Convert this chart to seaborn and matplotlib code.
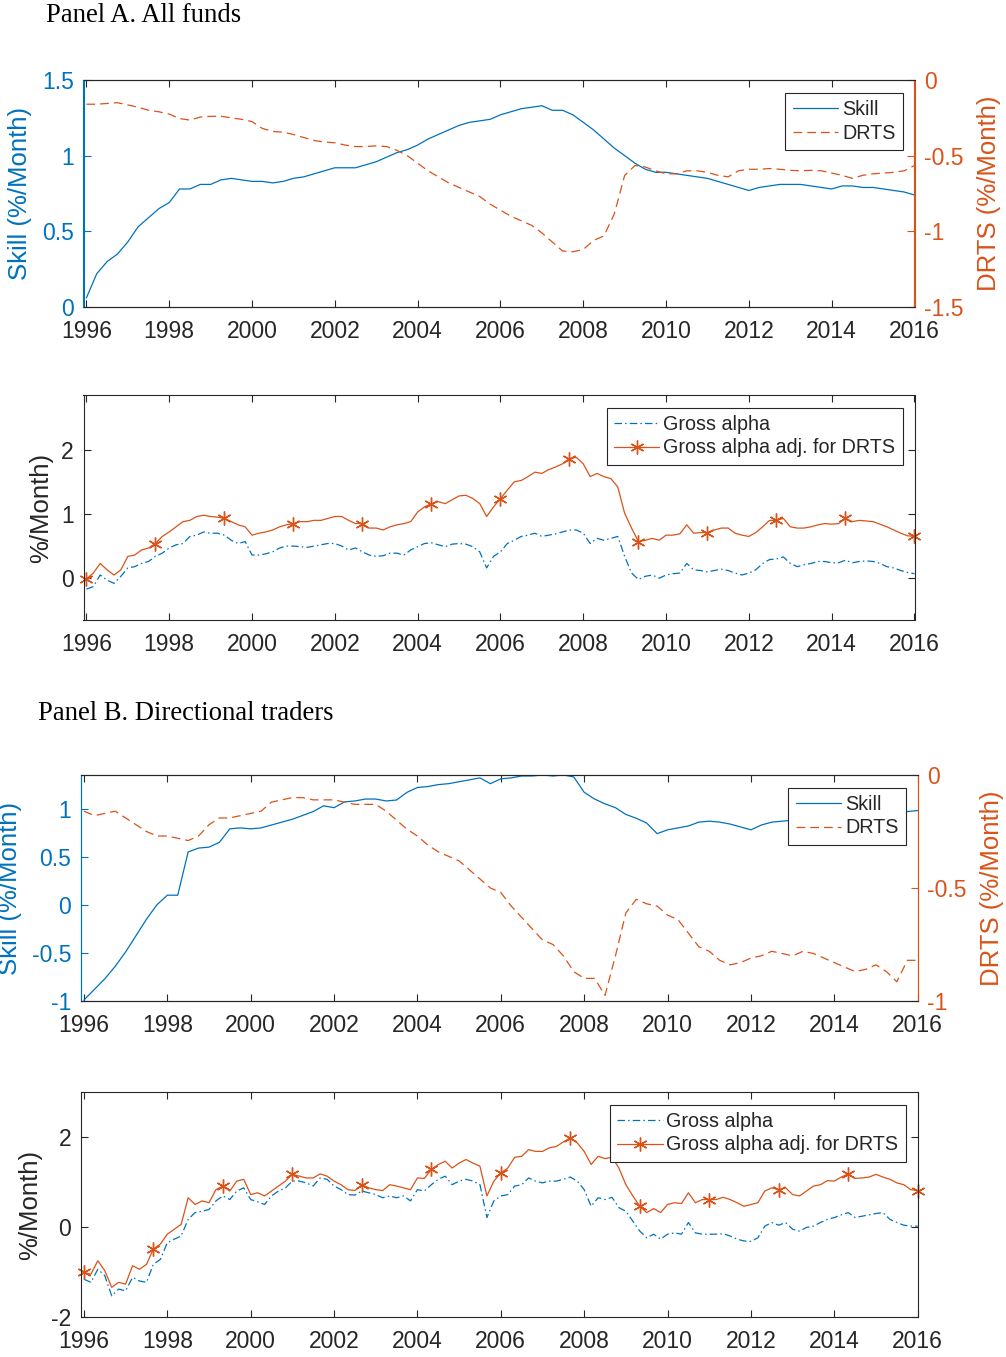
import numpy as np
import matplotlib
matplotlib.use("Agg")
import matplotlib.pyplot as plt
import seaborn as sns

# ---------------- data ----------------
years_q = np.linspace(1996, 2016, 81)    # quarterly points
years_b = np.linspace(1996, 2016, 121)   # bimonthly points

a_skill = [0.06, 0.22, 0.30, 0.35, 0.43, 0.53, 0.59, 0.65, 0.69, 0.78, 0.78, 0.81,
           0.81, 0.84, 0.85, 0.84, 0.83, 0.83, 0.82, 0.83, 0.85, 0.86, 0.88, 0.90,
           0.92, 0.92, 0.92, 0.94, 0.96, 0.99, 1.02, 1.04, 1.07, 1.11, 1.14, 1.17,
           1.20, 1.22, 1.23, 1.24, 1.27, 1.29, 1.31, 1.32, 1.33, 1.30, 1.30, 1.27,
           1.22, 1.17, 1.11, 1.05, 1.00, 0.95, 0.91, 0.89, 0.89, 0.88, 0.87, 0.86,
           0.85, 0.83, 0.81, 0.79, 0.77, 0.79, 0.80, 0.81, 0.81, 0.81, 0.80, 0.79,
           0.78, 0.80, 0.80, 0.79, 0.79, 0.78, 0.77, 0.76, 0.74]
a_drts = [-0.16, -0.16, -0.155, -0.15, -0.165, -0.18, -0.20, -0.21, -0.225, -0.255, -0.265, -0.245,
          -0.24, -0.24, -0.25, -0.26, -0.275, -0.32, -0.34, -0.345, -0.36, -0.38, -0.40, -0.41,
          -0.415, -0.43, -0.44, -0.44, -0.435, -0.44, -0.465, -0.50, -0.55, -0.60, -0.64, -0.68,
          -0.71, -0.74, -0.77, -0.82, -0.86, -0.90, -0.93, -0.96, -1.01, -1.07, -1.13, -1.135,
          -1.12, -1.06, -1.03, -0.885, -0.63, -0.565, -0.575, -0.60, -0.62, -0.62, -0.60, -0.60,
          -0.61, -0.63, -0.64, -0.60, -0.59, -0.59, -0.585, -0.59, -0.597, -0.60, -0.597, -0.60,
          -0.615, -0.63, -0.65, -0.63, -0.62, -0.615, -0.61, -0.60, -0.565]

a_gross = [-0.17, -0.13, 0.05, -0.03, -0.08, 0.03, 0.16, 0.18, 0.23, 0.26, 0.34, 0.39,
           0.47, 0.52, 0.54, 0.65, 0.67, 0.72, 0.70, 0.70, 0.67, 0.59, 0.54, 0.57,
           0.36, 0.36, 0.38, 0.41, 0.47, 0.50, 0.50, 0.49, 0.48, 0.50, 0.52, 0.54,
           0.54, 0.50, 0.44, 0.47, 0.41, 0.36, 0.34, 0.35, 0.39, 0.39, 0.36, 0.44,
           0.49, 0.54, 0.55, 0.52, 0.49, 0.53, 0.54, 0.53, 0.49, 0.41, 0.16, 0.34,
           0.41, 0.54, 0.59, 0.65, 0.67, 0.70, 0.65, 0.67, 0.69, 0.72, 0.75, 0.75,
           0.70, 0.54, 0.62, 0.59, 0.62, 0.65, 0.34, 0.08, -0.02, 0.03, 0.05, 0.00,
           0.05, 0.07, 0.08, 0.23, 0.13, 0.12, 0.10, 0.12, 0.14, 0.12, 0.08, 0.05,
           0.08, 0.13, 0.23, 0.29, 0.30, 0.33, 0.23, 0.18, 0.21, 0.23, 0.26, 0.26,
           0.24, 0.24, 0.28, 0.24, 0.26, 0.27, 0.26, 0.23, 0.18, 0.16, 0.12, 0.09, 0.07]
a_adj = [-0.01, 0.08, 0.23, 0.13, 0.05, 0.13, 0.34, 0.36, 0.44, 0.47, 0.54, 0.65,
         0.72, 0.80, 0.88, 0.90, 0.96, 0.98, 0.96, 0.95, 0.93, 0.88, 0.83, 0.80,
         0.67, 0.70, 0.72, 0.75, 0.80, 0.83, 0.85, 0.88, 0.88, 0.90, 0.90, 0.93,
         0.96, 0.96, 0.90, 0.85, 0.85, 0.78, 0.78, 0.75, 0.80, 0.83, 0.85, 0.88,
         1.03, 1.11, 1.16, 1.19, 1.16, 1.22, 1.28, 1.29, 1.24, 1.16, 0.96, 1.11,
         1.24, 1.37, 1.50, 1.52, 1.58, 1.65, 1.63, 1.69, 1.73, 1.78, 1.86, 1.88,
         1.78, 1.58, 1.63, 1.58, 1.55, 1.42, 1.01, 0.78, 0.57, 0.59, 0.62, 0.59,
         0.67, 0.67, 0.69, 0.83, 0.70, 0.71, 0.71, 0.75, 0.78, 0.78, 0.70, 0.67,
         0.65, 0.71, 0.80, 0.90, 0.90, 0.93, 0.80, 0.78, 0.78, 0.80, 0.83, 0.85,
         0.84, 0.85, 0.93, 0.88, 0.90, 0.89, 0.88, 0.84, 0.80, 0.75, 0.70, 0.66, 0.65]

b_skill = [-0.99, -0.88, -0.77, -0.64, -0.49, -0.32, -0.15, 0.00, 0.10, 0.10, 0.55, 0.59,
           0.60, 0.65, 0.79, 0.80, 0.79, 0.80, 0.83, 0.86, 0.89, 0.93, 0.97, 1.03,
           1.01, 1.07, 1.08, 1.10, 1.10, 1.08, 1.09, 1.17, 1.22, 1.23, 1.25, 1.26,
           1.28, 1.30, 1.32, 1.26, 1.31, 1.32, 1.34, 1.34, 1.35, 1.34, 1.35, 1.33,
           1.17, 1.10, 1.05, 1.01, 0.94, 0.90, 0.85, 0.74, 0.78, 0.80, 0.82, 0.86,
           0.87, 0.86, 0.84, 0.81, 0.78, 0.83, 0.86, 0.87, 0.88, 0.89, 0.90, 0.91,
           0.92, 0.93, 0.94, 0.95, 0.95, 0.96, 0.97, 0.97, 0.98]
b_drts = [-0.16, -0.18, -0.17, -0.16, -0.19, -0.22, -0.25, -0.27, -0.27, -0.28, -0.29, -0.27,
          -0.22, -0.19, -0.19, -0.18, -0.17, -0.16, -0.12, -0.11, -0.10, -0.10, -0.11, -0.11,
          -0.11, -0.12, -0.13, -0.13, -0.13, -0.16, -0.20, -0.24, -0.27, -0.31, -0.34, -0.36,
          -0.38, -0.42, -0.46, -0.50, -0.52, -0.58, -0.63, -0.68, -0.73, -0.75, -0.80, -0.87,
          -0.90, -0.90, -0.975, -0.80, -0.61, -0.55, -0.57, -0.58, -0.62, -0.64, -0.70, -0.76,
          -0.78, -0.82, -0.84, -0.83, -0.81, -0.80, -0.78, -0.79, -0.80, -0.78, -0.79, -0.81,
          -0.83, -0.85, -0.87, -0.86, -0.84, -0.87, -0.915, -0.82, -0.82]

b_gross = [-1.16, -1.23, -0.94, -1.08, -1.53, -1.38, -1.42, -1.12, -1.20, -1.23, -0.83, -0.72,
           -0.35, -0.27, -0.20, 0.17, 0.32, 0.35, 0.39, 0.58, 0.69, 0.61, 0.80, 0.87,
           0.61, 0.56, 0.50, 0.69, 0.80, 0.87, 1.02, 1.02, 0.98, 0.91, 1.09, 1.06,
           0.91, 0.83, 0.72, 0.71, 0.80, 0.76, 0.72, 0.65, 0.69, 0.65, 0.69, 0.58,
           0.83, 0.80, 0.94, 1.06, 1.13, 0.94, 1.02, 1.06, 1.02, 0.94, 0.21, 0.58,
           0.69, 0.72, 0.91, 0.94, 1.09, 1.02, 0.98, 1.02, 1.02, 1.06, 1.11, 1.02,
           0.83, 0.46, 0.65, 0.61, 0.66, 0.43, 0.35, 0.13, -0.09, -0.24, -0.16, -0.27,
           -0.16, -0.13, -0.16, 0.10, -0.13, -0.16, -0.16, -0.16, -0.15, -0.20, -0.27, -0.31,
           -0.32, -0.24, 0.02, 0.10, 0.04, 0.10, -0.05, -0.09, -0.01, 0.02, 0.10, 0.17,
           0.21, 0.27, 0.32, 0.21, 0.24, 0.27, 0.30, 0.32, 0.17, 0.10, 0.04, 0.02, 0.02]
b_adj = [-1.01, -1.05, -0.75, -0.97, -1.34, -1.23, -1.27, -0.86, -0.94, -0.83, -0.49, -0.38,
         -0.16, -0.05, 0.06, 0.65, 0.50, 0.58, 0.54, 0.83, 0.91, 0.80, 1.02, 1.06,
         0.72, 0.76, 0.69, 0.80, 0.91, 1.02, 1.17, 1.13, 1.09, 1.09, 1.18, 1.13,
         1.02, 0.94, 0.83, 0.81, 0.94, 0.87, 0.83, 0.81, 0.94, 0.91, 0.87, 0.83,
         1.09, 1.08, 1.28, 1.39, 1.46, 1.31, 1.42, 1.50, 1.42, 1.35, 0.69, 1.02,
         1.20, 1.31, 1.55, 1.57, 1.72, 1.68, 1.68, 1.76, 1.79, 1.89, 1.98, 1.87,
         1.68, 1.39, 1.57, 1.52, 1.55, 1.31, 0.94, 0.69, 0.46, 0.32, 0.41, 0.32,
         0.50, 0.54, 0.52, 0.76, 0.54, 0.61, 0.61, 0.61, 0.66, 0.61, 0.54, 0.46,
         0.50, 0.54, 0.80, 0.87, 0.83, 0.87, 0.72, 0.69, 0.80, 0.91, 0.94, 1.03,
         1.02, 1.11, 1.18, 1.08, 1.09, 1.11, 1.17, 1.11, 1.06, 0.98, 0.94, 0.83, 0.81]

x_ticks = list(range(1996, 2017, 2))
x_ticklabels = [str(y) for y in x_ticks]

a_skill_ticks = [0, 0.5, 1, 1.5]
a_skill_labels = ["0", "0.5", "1", "1.5"]
a_drts_ticks = [-1.5, -1, -0.5, 0]
a_drts_labels = ["-1.5", "-1", "-0.5", "0"]
a_alpha_ticks = [0, 1, 2]
a_alpha_labels = ["0", "1", "2"]
b_skill_ticks = [-1, -0.5, 0, 0.5, 1]
b_skill_labels = ["-1", "-0.5", "0", "0.5", "1"]
b_drts_ticks = [-1, -0.5, 0]
b_drts_labels = ["-1", "-0.5", "0"]
b_alpha_ticks = [-2, 0, 2]
b_alpha_labels = ["-2", "0", "2"]

# ---------------- style ----------------
sns.set_theme(style="white")
plt.rcParams["font.family"] = ["Liberation Sans", "DejaVu Sans"]
plt.rcParams["axes.linewidth"] = 0.8

BLUE = "#0072BD"
ORANGE = "#D95319"
DARK = "#262626"
TICK_FS = 16.5
LAB_FS = 18.5
LEG_FS = 14.2
LW = 0.9

fig = plt.figure(figsize=(10.06, 13.57), dpi=100)

W, H = 1006.0, 1357.0
def rect(l, t, r, b):
    return [l / W, 1 - b / H, (r - l) / W, (b - t) / H]

XLIM = (1995.93, 2016.0)


def style_x(ax):
    ax.set_xlim(*XLIM)
    ax.set_xticks(x_ticks)
    ax.set_xticklabels(x_ticklabels)
    ax.tick_params(axis="x", which="both", direction="in", top=True, bottom=True,
                   length=5, width=0.8, color=DARK, labelsize=TICK_FS,
                   labelcolor=DARK, pad=9.5)
    ax.set_xlabel("")
    ax.spines["top"].set_color(DARK)
    ax.spines["bottom"].set_color(DARK)


def make_legend(ax, handles=None, labels=None):
    kw = dict(loc="upper right", bbox_to_anchor=(0.986, 0.944), borderaxespad=0,
              fontsize=LEG_FS, frameon=True, fancybox=False, framealpha=1,
              edgecolor=DARK, handlelength=2.3, handletextpad=0.2,
              labelspacing=0.22, borderpad=0.38)
    if handles is None:
        leg = ax.legend(**kw)
    else:
        leg = ax.legend(handles, labels, **kw)
    leg.get_frame().set_linewidth(0.8)
    return leg


def skill_panel(r, years, skill, drts, sl, sticks, slabels, dticks, dlabels,
                lab_left_x, lab_right_x):
    ax = fig.add_axes(r)
    ax2 = ax.twinx()
    sns.lineplot(x=years, y=skill, ax=ax, color=BLUE, linewidth=LW,
                 label="Skill", legend=False, estimator=None)
    sns.lineplot(x=years, y=drts, ax=ax2, color=ORANGE, linewidth=LW,
                 label="DRTS", legend=False, estimator=None)
    ax2.lines[-1].set_dashes((7, 4))
    style_x(ax)
    ax.set_ylim(*sl)
    ax.set_yticks(sticks)
    ax.set_yticklabels(slabels)
    ax.tick_params(axis="y", direction="in", length=5, width=0.8, color=BLUE,
                   labelcolor=BLUE, labelsize=TICK_FS, pad=7, right=False)
    ax2.set_ylim(dticks[0], dticks[-1])
    ax2.set_yticks(dticks)
    ax2.set_yticklabels(dlabels)
    ax2.tick_params(axis="y", direction="in", length=5, width=0.8, color=ORANGE,
                    labelcolor=ORANGE, labelsize=TICK_FS, pad=7)
    ax.spines["left"].set_color(BLUE)
    ax2.spines["left"].set_color(BLUE)
    ax2.spines["right"].set_color(ORANGE)
    ax.spines["right"].set_color(ORANGE)
    ax2.spines["top"].set_color(DARK)
    ax.set_ylabel("Skill (%/Month)", color=BLUE, fontsize=LAB_FS)
    ax.yaxis.set_label_coords(lab_left_x, 0.5)
    ax2.set_ylabel("DRTS (%/Month)", color=ORANGE, fontsize=LAB_FS)
    ax2.yaxis.set_label_coords(lab_right_x, 0.5)
    h1, l1 = ax.get_legend_handles_labels()
    h2, l2 = ax2.get_legend_handles_labels()
    make_legend(ax2, h1 + h2, l1 + l2)
    return ax, ax2


def alpha_panel(r, years, gross, adj, yl, ticks, labels, lab_x):
    ax = fig.add_axes(r)
    sns.lineplot(x=years, y=gross, ax=ax, color=BLUE, linewidth=LW,
                 label="Gross alpha", legend=False, estimator=None)
    ax.lines[-1].set_dashes((6, 2.5, 1.2, 2.5))
    sns.lineplot(x=years, y=adj, ax=ax, color=ORANGE, linewidth=LW,
                 label="Gross alpha adj. for DRTS", legend=False, estimator=None,
                 marker=(6, 2, 0), markersize=10, markevery=10,
                 markeredgecolor=ORANGE, markerfacecolor=ORANGE,
                 markeredgewidth=1.0)
    for ln in ax.lines:
        ln.set_clip_on(False)
    style_x(ax)
    ax.set_ylim(*yl)
    ax.set_yticks(ticks)
    ax.set_yticklabels(labels)
    ax.tick_params(axis="y", direction="in", length=5, width=0.8, color=DARK,
                   labelcolor=DARK, labelsize=TICK_FS, pad=7, left=True, right=True)
    for s in ax.spines.values():
        s.set_color(DARK)
    ax.set_ylabel("%/Month)", color=DARK, fontsize=LAB_FS)
    ax.yaxis.set_label_coords(lab_x, 0.5)
    make_legend(ax)
    return ax


# Panel A
skill_panel(rect(83.5, 80, 914.5, 307), years_q, a_skill, a_drts, (0, 1.5),
            a_skill_ticks, a_skill_labels, a_drts_ticks, a_drts_labels,
            -0.062, 1.075)
alpha_panel(rect(83.5, 395, 914.5, 620), years_b, a_gross, a_adj, (-0.65, 2.85),
            a_alpha_ticks, a_alpha_labels, -0.037)

# Panel B
skill_panel(rect(81, 775, 917.7, 1001), years_q, b_skill, b_drts, (-1, 1.35),
            b_skill_ticks, b_skill_labels, b_drts_ticks, b_drts_labels,
            -0.0705, 1.0745)
alpha_panel(rect(81, 1092, 917.7, 1317), years_b, b_gross, b_adj, (-2, 3),
            b_alpha_ticks, b_alpha_labels, -0.047)

fig.text(46 / W, 1 - 16 / H, "Panel A. All funds", fontsize=19.2,
         family=["Liberation Serif", "DejaVu Serif"], color="black",
         ha="left", va="center")
fig.text(38 / W, 1 - 713 / H, "Panel B. Directional traders", fontsize=19.2,
         family=["Liberation Serif", "DejaVu Serif"], color="black",
         ha="left", va="center")

fig.savefig("out.png", dpi=100, facecolor="white")
